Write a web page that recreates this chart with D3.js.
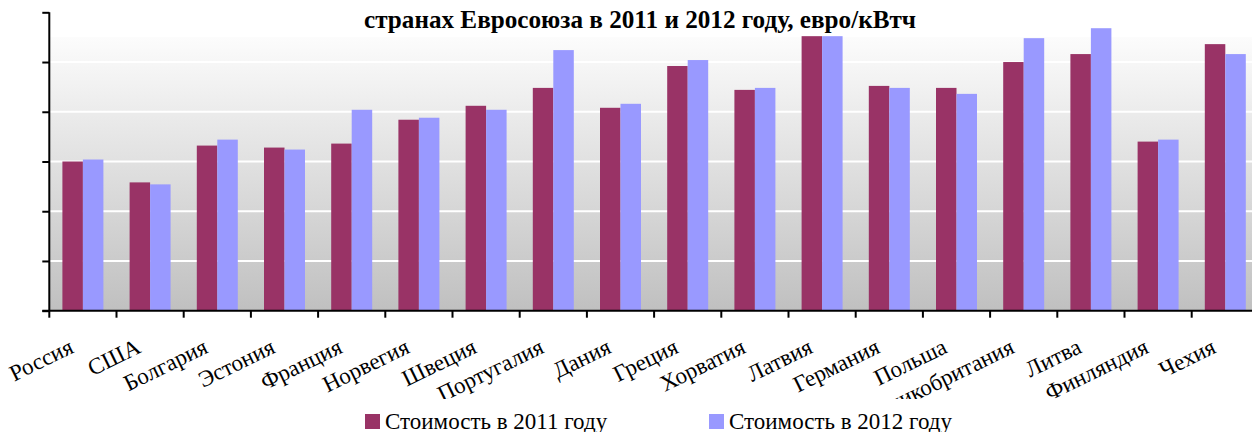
<!DOCTYPE html>
<html>
<head>
<meta charset="utf-8">
<script src="https://cdn.jsdelivr.net/npm/d3@7"></script>
<style>
  body { margin: 0; background: #fff; }
  svg { display: block; overflow: hidden; }
</style>
</head>
<body>
<div id="chart"></div>
<script>
  // Categories (countries)
  const countries = ["Россия", "США", "Болгария", "Эстония", "Франция", "Норвегия", "Швеция",
    "Португалия", "Дания", "Греция", "Хорватия", "Латвия", "Германия", "Польша",
    "Великобритания", "Литва", "Финляндия", "Чехия"];

  // Series values, euro/kWh
  const cost2011 = [0.150, 0.129, 0.166, 0.164, 0.168, 0.192, 0.206, 0.224, 0.204, 0.246,
    0.222, 0.276, 0.226, 0.224, 0.250, 0.258, 0.170, 0.268];
  const cost2012 = [0.152, 0.127, 0.172, 0.162, 0.202, 0.194, 0.202, 0.262, 0.208, 0.252,
    0.224, 0.276, 0.224, 0.218, 0.274, 0.284, 0.172, 0.258];

  const seriesNames = ["Стоимость в 2011 году", "Стоимость в 2012 году"];
  const seriesColors = ["#993366", "#9999ff"];
  const yTicks = [0, 0.05, 0.10, 0.15, 0.20, 0.25, 0.30];

  const width = 1252;
  const height = 432;
  const axisLeft = 49.3;
  const axisBottom = 310.7;
  const axisTop = 12.3;
  const serif = '"Liberation Serif", "Times New Roman", Times, serif';

  const svg = d3.select('#chart')
    .append('svg')
      .attr('width', width)
      .attr('height', height)
      .attr('font-family', serif);

  const defs = svg.append('defs');
  const grad = defs.append('linearGradient')
      .attr('id', 'bg')
      .attr('x1', 0).attr('y1', 0).attr('x2', 0).attr('y2', 1);
  grad.append('stop').attr('offset', '0%').attr('stop-color', '#fcfcfc');
  grad.append('stop').attr('offset', '100%').attr('stop-color', '#c0c0c0');

  defs.append('clipPath')
      .attr('id', 'labelClip')
    .append('rect')
      .attr('x', 0).attr('y', 0)
      .attr('width', width).attr('height', 399);

  // Scales: the category axis runs past the right edge of the picture
  const x = d3.scaleBand()
    .domain(countries)
    .range([axisLeft, axisLeft + 67.2 * countries.length])
    .paddingInner(0.39)
    .paddingOuter(0.195);

  const xSeries = d3.scaleBand()
    .domain([0, 1])
    .range([0, x.bandwidth()]);

  const y = d3.scaleLinear()
    .domain([0, 0.30])
    .range([axisBottom, axisTop]);

  // Plot background
  svg.append('rect')
      .attr('x', axisLeft)
      .attr('y', 37)
      .attr('width', width - axisLeft)
      .attr('height', axisBottom - 37)
      .attr('fill', 'url(#bg)');

  // Gridlines
  svg.selectAll('.grid')
    .data(yTicks.slice(1))
    .join('line')
      .attr('class', 'grid')
      .attr('x1', axisLeft)
      .attr('x2', width)
      .attr('y1', d => y(d))
      .attr('y2', d => y(d))
      .attr('stroke', '#fff')
      .attr('stroke-width', 2);

  // Bars
  const rows = countries.map((c, i) => ({ country: c, values: [cost2011[i], cost2012[i]] }));
  const groups = svg.selectAll('.group')
    .data(rows)
    .join('g')
      .attr('class', 'group')
      .attr('transform', d => `translate(${x(d.country)},0)`);

  groups.selectAll('rect')
    .data(d => d.values.map((v, s) => ({ v, s })))
    .join('rect')
      .attr('x', d => xSeries(d.s))
      .attr('y', d => y(d.v))
      .attr('width', xSeries.bandwidth())
      .attr('height', d => axisBottom - y(d.v))
      .attr('fill', d => seriesColors[d.s]);

  // Y axis (labels fall outside the picture)
  const yAxis = svg.append('g')
      .attr('transform', `translate(${axisLeft},0)`)
      .call(d3.axisLeft(y).tickValues(yTicks).tickSize(7).tickFormat(''));
  yAxis.select('.domain').attr('stroke', '#000').attr('stroke-width', 2)
      .attr('d', `M0,${axisBottom}V${axisTop}`);
  yAxis.selectAll('.tick line').attr('stroke', '#000').attr('stroke-width', 2);

  // X axis, ticks between categories
  const step = x.step();
  const xTickPos = d3.range(countries.length + 1).map(i => axisLeft + i * step);
  svg.append('line')
      .attr('x1', axisLeft - 7)
      .attr('x2', width)
      .attr('y1', axisBottom)
      .attr('y2', axisBottom)
      .attr('stroke', '#000')
      .attr('stroke-width', 2);
  svg.selectAll('.xtick')
    .data(xTickPos)
    .join('line')
      .attr('class', 'xtick')
      .attr('x1', d => d).attr('x2', d => d)
      .attr('y1', axisBottom).attr('y2', axisBottom + 7)
      .attr('stroke', '#000')
      .attr('stroke-width', 2);

  // Category labels, rotated
  svg.append('g')
      .attr('clip-path', 'url(#labelClip)')
    .selectAll('text')
    .data(countries)
    .join('text')
      .attr('transform', d => `translate(${x(d) + x.bandwidth() / 2 - 8},352) rotate(-26)`)
      .attr('text-anchor', 'end')
      .attr('font-family', serif)
      .attr('font-size', 23)
      .text(d => d);

  // Title (second line of the original heading)
  svg.append('text')
      .attr('x', 640)
      .attr('y', 28)
      .attr('text-anchor', 'middle')
      .attr('textLength', 552)
      .attr('lengthAdjust', 'spacingAndGlyphs')
      .attr('font-family', serif)
      .attr('font-size', 26)
      .attr('font-weight', 'bold')
      .text('странах Евросоюза в 2011 и 2012 году, евро/кВтч');

  // Legend
  const legendX = [365, 709];
  const legend = svg.selectAll('.legend')
    .data(seriesNames)
    .join('g')
      .attr('class', 'legend')
      .attr('transform', (d, i) => `translate(${legendX[i]},414)`);
  legend.append('rect')
      .attr('width', 15)
      .attr('height', 15)
      .attr('fill', (d, i) => seriesColors[i]);
  legend.append('text')
      .attr('x', 20)
      .attr('y', 14.5)
      .attr('font-family', serif)
      .attr('font-size', 23)
      .text(d => d);
</script>
</body>
</html>
